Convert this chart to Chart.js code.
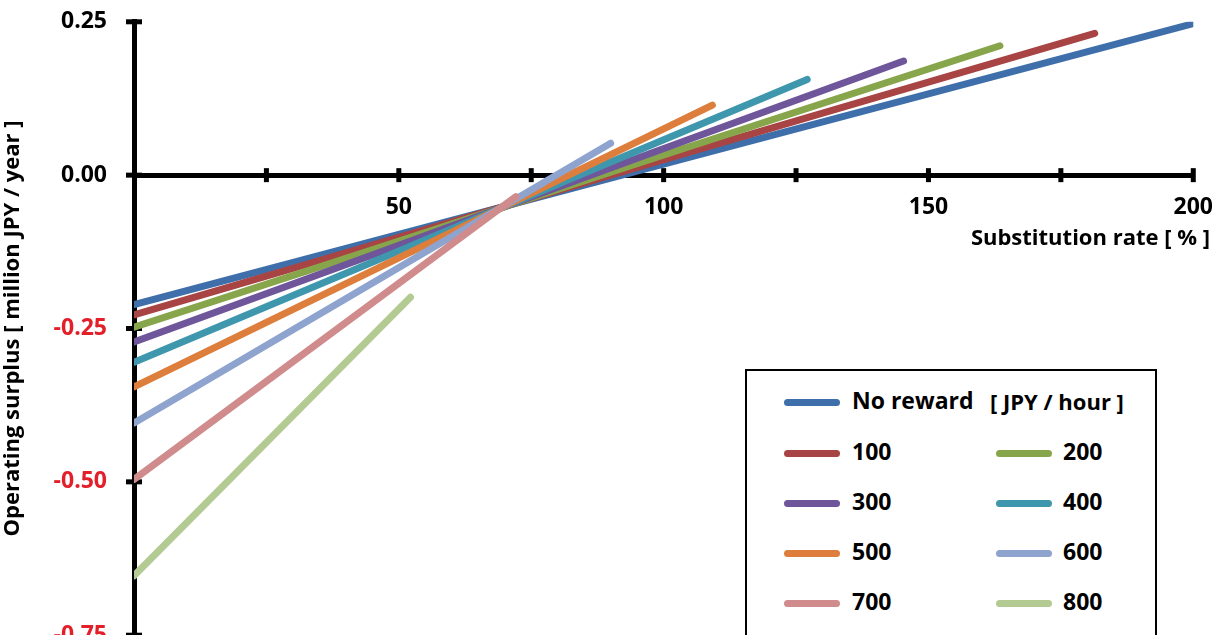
<!DOCTYPE html>
<html>
<head>
<meta charset="utf-8">
<script src="https://cdn.jsdelivr.net/npm/chart.js@4.4.1/dist/chart.umd.min.js"></script>
<style>
  html, body { margin: 0; padding: 0; background: #fff; overflow: hidden; }
  #wrap { position: relative; width: 1212px; height: 635px; overflow: hidden; }
  canvas { position: absolute; left: 0; top: -19px; }
  .txt { position: absolute; font-family: "Open Sans", sans-serif; font-weight: bold; font-size: 23px; color: #000; white-space: nowrap; line-height: 1; }
  #xtitle { right: 2px; top: 225px; font-size: 22px; }
  #legend { position: absolute; left: 745px; top: 369px; width: 408px; height: 300px; border: 2px solid #000; background: #fff; }
  .sw { position: absolute; width: 56px; height: 7px; border-radius: 3.5px; }
</style>
</head>
<body>
<div id="wrap">
  <canvas id="c" width="1232" height="695"></canvas>
  <div id="xtitle" class="txt">Substitution rate [ % ]</div>
  <div id="legend"></div>
</div>
<script>
// ---- data ----
const seriesLabels = ['No reward', '100', '200', '300', '400', '500', '600', '700', '800'];
const seriesColors = ['#3f6faa', '#a84444', '#87a54a', '#6f569a', '#3f97ae', '#dd7e3c', '#8ea4cf', '#d08c8c', '#b3cb93'];
const xStart = [0, 0, 0, 0, 0, 0, 0, 0, 0];
const yStart = [-0.211, -0.228, -0.248, -0.272, -0.305, -0.345, -0.404, -0.496, -0.653];
const xEnd = [200, 181.4, 163.5, 145.3, 127.1, 109.2, 90.0, 72.1, 52.2];
const yEnd = [0.247, 0.231, 0.211, 0.186, 0.156, 0.114, 0.052, -0.035, -0.199];
const xTickStep = 25;
const xLabelValues = [50, 100, 150, 200];
const yTickStep = 0.25;
const legendHeader = '[ JPY / hour ]';
const xTitle = 'Substitution rate [ % ]';
const yTitle = 'Operating surplus [ million JPY / year ]';

const FONT = '"Open Sans", sans-serif';

const datasets = seriesLabels.map((lab, i) => ({
  label: lab,
  data: [{x: xStart[i], y: yStart[i]}, {x: xEnd[i], y: yEnd[i]}],
  borderColor: seriesColors[i],
  backgroundColor: seriesColors[i],
  borderWidth: 7,
  borderCapStyle: 'round',
  pointRadius: 0,
  tension: 0,
  order: seriesLabels.length - i
}));

// cross-shaped tick marks drawn through the scales
const crossTicks = {
  id: 'crossTicks',
  beforeDatasetsDraw(chart) {
    const {ctx, scales: {x, y}} = chart;
    const y0 = y.getPixelForValue(0);
    ctx.save();
    ctx.strokeStyle = '#000';
    ctx.lineWidth = 5;
    ctx.lineCap = 'butt';
    x.ticks.forEach(t => {
      if (t.value === 0) return;
      const px = x.getPixelForValue(t.value);
      ctx.beginPath(); ctx.moveTo(px, y0 - 7); ctx.lineTo(px, y0 + 7); ctx.stroke();
    });
    const x0 = x.getPixelForValue(0);
    y.ticks.forEach(t => {
      const py = y.getPixelForValue(t.value);
      ctx.beginPath(); ctx.moveTo(x0 - 8, py); ctx.lineTo(x0 + 8, py); ctx.stroke();
    });
    ctx.restore();
  }
};

document.getElementById('xtitle').textContent = xTitle;

const chart = new Chart(document.getElementById('c'), {
  type: 'line',
  data: { datasets },
  options: {
    responsive: false,
    animation: false,
    layout: { padding: { top: 11, right: 0, bottom: 15, left: 0 } },
    plugins: { legend: { display: false }, tooltip: { enabled: false } },
    scales: {
      x: {
        type: 'linear',
        position: { y: 0 },
        min: 0, max: 200,
        grid: { display: false, drawTicks: false },
        border: { display: true, color: '#000', width: 5 },
        ticks: {
          stepSize: xTickStep,
          padding: 19,
          maxRotation: 0,
          autoSkip: false,
          color: '#000',
          font: { family: FONT, size: 23, weight: 'bold' },
          callback: (v) => xLabelValues.includes(v) ? String(v) : ''
        }
      },
      y: {
        type: 'linear',
        position: 'left',
        min: -0.75, max: 0.25,
        afterFit: (s) => { s.width = 134; },
        grid: { display: false, drawTicks: false },
        border: { display: true, color: '#000', width: 5 },
        title: {
          display: true, text: yTitle, color: '#000',
          font: { family: FONT, size: 22, weight: 'bold' },
          padding: { top: 0, bottom: 0 }
        },
        ticks: {
          stepSize: yTickStep,
          padding: 27,
          color: (c) => c.tick.value < 0 ? '#e3202a' : '#000',
          font: { family: FONT, size: 23, weight: 'bold' },
          callback: (v) => v.toFixed(2)
        }
      }
    }
  },
  plugins: [crossTicks]
});

// HTML legend built from the chart's datasets
(function buildLegend() {
  const box = document.getElementById('legend');
  const ds = chart.data.datasets;
  const colX = [[37, 105], [249, 316]];
  const rowY = [31, 82, 132, 182, 232];
  function item(i, col, row) {
    const sw = document.createElement('div');
    sw.className = 'sw';
    sw.style.background = ds[i].borderColor;
    sw.style.left = colX[col][0] + 'px';
    sw.style.top = (rowY[row] - 3) + 'px';
    box.appendChild(sw);
    const t = document.createElement('div');
    t.className = 'txt';
    t.textContent = ds[i].label;
    t.style.left = colX[col][1] + 'px';
    t.style.top = (rowY[row] - 13) + 'px';
    box.appendChild(t);
  }
  item(0, 0, 0);
  const h = document.createElement('div');
  h.className = 'txt';
  h.textContent = legendHeader;
  h.style.left = '243px';
  h.style.fontSize = '22px';
  h.style.top = (rowY[0] - 12) + 'px';
  box.appendChild(h);
  for (let i = 1; i < ds.length; i++) {
    const k = i - 1;
    item(i, k % 2, 1 + Math.floor(k / 2));
  }
})();
</script>
</body>
</html>
